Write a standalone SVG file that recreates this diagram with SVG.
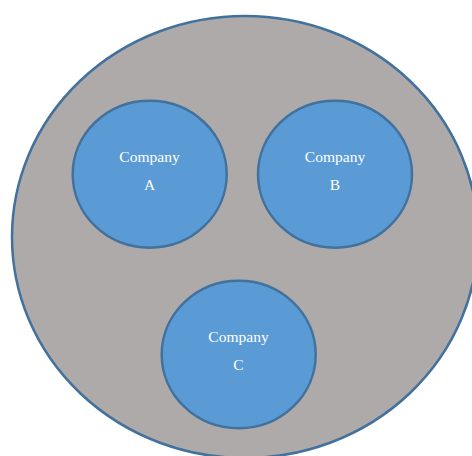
<svg xmlns="http://www.w3.org/2000/svg" width="472" height="456" viewBox="0 0 472 456">
<style>
.outer{fill:#AEAAAA;stroke:#41719C;stroke-width:2.5}
.co{fill:#5B9BD5;stroke:#41719C;stroke-width:2.5}
.t{font-family:"Liberation Serif","Times New Roman",serif;font-size:15.5px;fill:#FFFFFF;text-anchor:middle}
</style>
<rect width="472" height="456" fill="#FFFFFF"/>
<g id="group">
<ellipse class="outer" cx="245" cy="237" rx="233" ry="221"/>
</g>
<g id="companyA">
<ellipse class="co" cx="149.7" cy="174.2" rx="77" ry="73.5"/>
<text class="t" x="149.5" y="162">Company</text>
<text class="t" x="149.5" y="190">A</text>
</g>
<g id="companyB">
<ellipse class="co" cx="335" cy="174.2" rx="77" ry="73.5"/>
<text class="t" x="335" y="162">Company</text>
<text class="t" x="335" y="190">B</text>
</g>
<g id="companyC">
<ellipse class="co" cx="238.7" cy="354.5" rx="77" ry="73.8"/>
<text class="t" x="238.5" y="342">Company</text>
<text class="t" x="238.5" y="370">C</text>
</g>
<g id="connectors"/>
</svg>
